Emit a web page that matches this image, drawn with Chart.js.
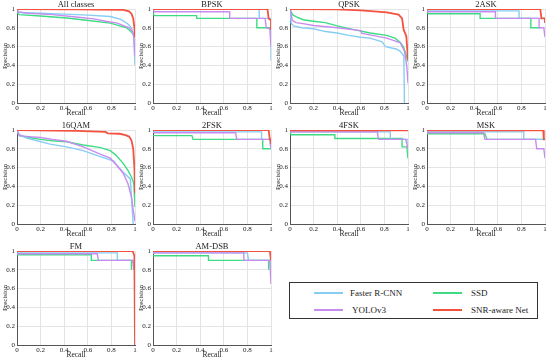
<!DOCTYPE html>
<html>
<head>
<meta charset="utf-8">
<script src="https://cdn.jsdelivr.net/npm/chart.js@4/dist/chart.umd.min.js"></script>
<style>
  html, body { margin: 0; padding: 0; background: #fff; }
  body { width: 550px; height: 360px; position: relative; overflow: hidden; font-family: 'Liberation Serif', serif; }
  .cv { position: absolute; }
  #legend { position: absolute; left: 289px; top: 282px; width: 247px; height: 35px; border: 1px solid #333; }
  .sw { position: absolute; height: 2px; width: 29px; }
  .lt { position: absolute; font-size: 9px; color: #222; line-height: 10px; white-space: nowrap; }
</style>
</head>
<body>
<div id="legend"></div>
<script>
// ---- Data ----
const panelTitles = ['All classes', 'BPSK', 'QPSK', '2ASK', '16QAM', '2FSK', '4FSK', 'MSK', 'FM', 'AM-DSB'];
const seriesNames = ['Faster R-CNN', 'SSD', 'YOLOv3', 'SNR-aware Net'];
const tickValues = [0, 0.2, 0.4, 0.6, 0.8, 1];

// [recall, precision] pairs
const allFaster = [[0,1],[0.01,0.97],[0.05,0.96],[0.2,0.955],[0.4,0.945],[0.6,0.935],[0.79,0.92],[0.88,0.89],[0.94,0.84],[0.97,0.8],[0.99,0.7],[1,0.4]];
const allSSD = [[0,0.96],[0.02,0.94],[0.2,0.925],[0.42,0.905],[0.59,0.88],[0.79,0.85],[0.93,0.8],[0.99,0.73],[1,0.7]];
const allYolo = [[0,1],[0.01,0.97],[0.1,0.955],[0.3,0.94],[0.5,0.915],[0.65,0.895],[0.75,0.87],[0.85,0.85],[0.95,0.8],[0.98,0.76],[0.99,0.7],[1,0.5]];
const allSNR = [[0,1],[0.5,0.995],[0.9,0.99],[0.95,0.975],[0.97,0.95],[0.985,0.9],[0.995,0.8],[1,0.7]];

const bpskFaster = [[0,1],[0.9,1],[0.9,0.9],[0.99,0.9],[1,0.9],[1,0.45]];
const bpskSSD = [[0,0.96],[0.01,0.93],[0.37,0.93],[0.37,0.9],[0.88,0.9],[0.88,0.8],[1,0.8],[1,0.65]];
const bpskYolo = [[0,1],[0.01,0.97],[0.65,0.97],[0.65,0.9],[0.95,0.9],[0.96,0.8],[0.99,0.79],[1,0.6]];
const bpskSNR = [[0,1],[0.97,1],[0.98,0.9],[1,0.88],[1,0.78]];

const qpskFaster = [[0,1],[0.01,0.85],[0.03,0.82],[0.1,0.8],[0.2,0.79],[0.3,0.76],[0.4,0.745],[0.5,0.72],[0.6,0.7],[0.68,0.69],[0.78,0.65],[0.81,0.6],[0.9,0.575],[0.935,0.55],[0.965,0.5],[0.97,0]];
const qpskSSD = [[0,1],[0.02,0.94],[0.05,0.92],[0.11,0.886],[0.2,0.87],[0.3,0.855],[0.4,0.82],[0.54,0.78],[0.68,0.745],[0.82,0.72],[0.89,0.69],[0.935,0.645],[0.96,0.6],[0.98,0.53],[1,0.44]];
const qpskYolo = [[0,1],[0.02,0.88],[0.05,0.855],[0.11,0.844],[0.2,0.825],[0.4,0.8],[0.6,0.77],[0.61,0.74],[0.7,0.72],[0.82,0.69],[0.935,0.64],[0.97,0.55],[0.99,0.39],[1,0.21]];
const qpskSNR = [[0,1],[0.4,0.995],[0.6,0.985],[0.82,0.965],[0.92,0.94],[0.95,0.9],[0.963,0.78],[0.986,0.71],[1,0.46]];

const askFaster = [[0,0.98],[0.78,0.98],[0.78,0.9],[1,0.9],[1,0.85]];
const askSSD = [[0,0.96],[0.01,0.95],[0.45,0.95],[0.45,0.9],[0.88,0.9],[0.88,0.8],[0.96,0.8]];
const askYolo = [[0,0.99],[0.01,0.97],[0.58,0.97],[0.58,0.9],[0.95,0.9],[0.95,0.8],[0.99,0.8],[1,0.7]];
const askSNR = [[0,1],[0.96,1],[0.97,0.9],[1,0.9],[1,0.85]];

const q16Faster = [[0,1],[0.01,0.96],[0.08,0.915],[0.28,0.85],[0.42,0.82],[0.56,0.78],[0.7,0.72],[0.82,0.67],[0.85,0.62],[0.9,0.55],[0.96,0.48],[0.97,0.28],[0.985,0]];
const q16SSD = [[0,1],[0.02,0.94],[0.1,0.92],[0.2,0.9],[0.3,0.885],[0.42,0.875],[0.56,0.84],[0.7,0.815],[0.79,0.78],[0.84,0.73],[0.9,0.645],[0.94,0.57],[0.97,0.5],[0.99,0.43],[1,0.18]];
const q16Yolo = [[0,1],[0.02,0.94],[0.1,0.93],[0.2,0.92],[0.3,0.9],[0.42,0.88],[0.56,0.82],[0.7,0.745],[0.79,0.7],[0.84,0.63],[0.9,0.54],[0.94,0.43],[0.97,0.29],[0.985,0.15],[1,0.03]];
const q16SNR = [[0,1],[0.5,0.99],[0.75,0.98],[0.77,0.965],[0.87,0.96],[0.92,0.945],[0.95,0.93],[0.97,0.89],[0.985,0.8],[0.995,0.6],[1,0.33]];

const f2Faster = [[0,0.98],[0.92,0.98],[0.92,0.9],[0.99,0.9],[1,0.8]];
const f2SSD = [[0,0.94],[0.33,0.94],[0.34,0.9],[0.93,0.9],[0.93,0.8],[1,0.8]];
const f2Yolo = [[0,0.98],[0.01,0.97],[0.7,0.97],[0.71,0.9],[0.99,0.9],[1,0.8]];
const f2SNR = [[0,1],[0.98,1],[0.99,0.9],[1,0.9],[1,0.85]];

const f4Faster = [[0,0.98],[0.85,0.98],[0.85,0.9],[1,0.9],[1,0.8]];
const f4SSD = [[0,0.97],[0.01,0.95],[0.38,0.95],[0.38,0.91],[0.95,0.91],[0.95,0.82],[0.99,0.82],[1,0.7]];
const f4Yolo = [[0,0.98],[0.74,0.98],[0.75,0.9],[0.98,0.9],[1,0.8]];
const f4SNR = [[0,0.995],[1,0.995]];

const mskFaster = [[0,0.98],[0.82,0.98],[0.82,0.9],[1,0.9]];
const mskSSD = [[0,0.96],[0.49,0.96],[0.51,0.9],[1,0.9]];
const mskYolo = [[0,0.97],[0.48,0.97],[0.49,0.9],[0.92,0.9],[0.93,0.8],[0.99,0.8],[1,0.7]];
const mskSNR = [[0,0.995],[0.985,0.995],[0.99,0.9],[1,0.9]];

const fmFaster = [[0,0.98],[0.85,0.98],[0.85,0.9],[0.99,0.9],[1,0.8]];
const fmSSD = [[0,0.96],[0.63,0.96],[0.63,0.9],[0.97,0.9],[0.97,0.8]];
const fmYolo = [[0,0.97],[0.68,0.97],[0.69,0.9],[0.98,0.9],[0.99,0.8]];
const fmSNR = [[0,1],[0.98,1],[0.995,0.95],[1,0]];

const amFaster = [[0,0.98],[0.8,0.98],[0.81,0.9],[0.99,0.9],[1,0.8]];
const amSSD = [[0,0.95],[0.47,0.95],[0.47,0.9],[0.98,0.9],[0.98,0.8]];
const amYolo = [[0,0.98],[0.77,0.98],[0.77,0.9],[0.99,0.9],[1,0.65]];
const amSNR = [[0,1],[0.99,1],[1,0.9]];

const panelSeries = [
  [allFaster, allSSD, allYolo, allSNR],
  [bpskFaster, bpskSSD, bpskYolo, bpskSNR],
  [qpskFaster, qpskSSD, qpskYolo, qpskSNR],
  [askFaster, askSSD, askYolo, askSNR],
  [q16Faster, q16SSD, q16Yolo, q16SNR],
  [f2Faster, f2SSD, f2Yolo, f2SNR],
  [f4Faster, f4SSD, f4Yolo, f4SNR],
  [mskFaster, mskSSD, mskYolo, mskSNR],
  [fmFaster, fmSSD, fmYolo, fmSNR],
  [amFaster, amSSD, amYolo, amSNR]
];

// ---- Styles / layout ----
const colors = ['#86cdf4', '#3ddc84', '#c88cf0', '#f4513f'];
const widths = [1.4, 1.4, 1.4, 1.8];
const orders = [2, 3, 1, 0];
const colLefts = [0, 136, 273, 410];
const rowTops = [0, 121, 242];
const CW = 139, CH = 120, YW = 17, XH = 17, PT = 9, PR = 4;
const FONT = 'Liberation Serif';
const fmtTick = v => String(Math.round(v * 10) / 10);

const titlePlugin = {
  id: 'panelTitle',
  afterDraw(chart, args, opts) {
    const {ctx, chartArea} = chart;
    ctx.save();
    ctx.font = '8.5px "' + FONT + '"';
    ctx.fillStyle = '#222';
    ctx.textAlign = 'center';
    ctx.textBaseline = 'middle';
    ctx.fillText(opts.text, (chartArea.left + chartArea.right) / 2, chartArea.top - 4.5);
    ctx.restore();
  }
};

panelTitles.forEach((title, i) => {
  const col = i % 4, row = Math.floor(i / 4);
  const cv = document.createElement('canvas');
  cv.className = 'cv';
  cv.width = CW; cv.height = CH;
  cv.style.left = colLefts[col] + 'px';
  cv.style.top = rowTops[row] + 'px';
  cv.style.width = CW + 'px'; cv.style.height = CH + 'px';
  document.body.appendChild(cv);
  new Chart(cv, {
    type: 'line',
    data: {
      datasets: panelSeries[i].map((pts, k) => ({
        label: seriesNames[k],
        data: pts.map(p => ({x: p[0], y: p[1]})),
        borderColor: colors[k],
        borderWidth: widths[k],
        pointRadius: 0,
        order: orders[k]
      }))
    },
    options: {
      responsive: false,
      animation: false,
      devicePixelRatio: 1,
      layout: { padding: { top: PT, right: PR, left: 0, bottom: 0 } },
      plugins: {
        legend: { display: false },
        tooltip: { enabled: false },
        panelTitle: { text: title }
      },
      scales: {
        x: {
          type: 'linear', min: 0, max: 1,
          afterFit(s) { s.height = XH; },
          afterBuildTicks(s) { s.ticks = tickValues.map(v => ({value: v})); },
          grid: { color: '#e4e4e4', drawTicks: false },
          border: { color: '#555' },
          ticks: { font: { family: FONT, size: 7 }, color: '#222', padding: 1, maxRotation: 0, autoSkip: false, callback: fmtTick },
          title: { display: true, text: 'Recall', font: { family: FONT, size: 7.5 }, color: '#222', padding: { top: 0, bottom: 2.5 } }
        },
        y: {
          type: 'linear', min: 0, max: 1,
          afterFit(s) { s.width = YW; },
          afterBuildTicks(s) { s.ticks = tickValues.map(v => ({value: v})); },
          grid: { color: '#e4e4e4', drawTicks: false },
          border: { color: '#555' },
          ticks: { font: { family: FONT, size: 7 }, color: '#222', padding: 2, autoSkip: false, callback: fmtTick },
          title: { display: true, text: 'Precision', font: { family: FONT, size: 7 }, color: '#222', padding: { top: 1, bottom: 0 } }
        }
      }
    },
    plugins: [titlePlugin]
  });
});

// ---- Legend (HTML, real text) ----
const legend = document.getElementById('legend');
const legendSlots = [
  {sx: 24, ty: 10, tx: 60},
  {sx: 143, ty: 10, tx: 181},
  {sx: 24, ty: 27, tx: 62},
  {sx: 143, ty: 27, tx: 181}
];
seriesNames.forEach((name, k) => {
  const s = legendSlots[k];
  const sw = document.createElement('div');
  sw.className = 'sw';
  sw.style.left = s.sx + 'px';
  sw.style.top = (s.ty - 1) + 'px';
  sw.style.background = colors[k];
  legend.appendChild(sw);
  const t = document.createElement('div');
  t.className = 'lt';
  t.style.left = s.tx + 'px';
  t.style.top = (s.ty - 5) + 'px';
  t.textContent = name;
  legend.appendChild(t);
});
</script>
</body>
</html>
